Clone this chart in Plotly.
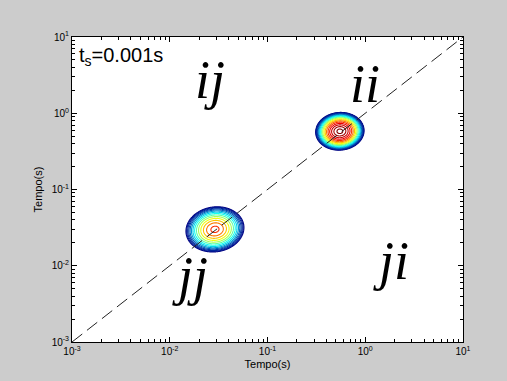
import numpy as np
import plotly.graph_objects as go

# ---- data ----
blob_names = ["ii", "jj"]
blob_cx = [0.55, 0.029]          # centre, x (s)
blob_cy = [0.58, 0.030]          # centre, y (s)
blob_radius_dec = [0.25, 0.30]   # outer radius in decades
blob_peak = [1.0, 0.78]          # peak density (normalised)
blob_tilt = [0.02, 0.04]         # elongation along the diagonal

label_text = ["ij", "ii", "jj", "ji"]
label_x = [0.026, 1.0, 0.016, 1.83]
label_y = [2.7, 2.4, 0.0074, 0.0115]

diag_x = [1e-3, 10]
diag_y = [1e-3, 10]

tick_vals = [1e-3, 1e-2, 1e-1, 1, 10]
tick_text = ["10<sup>-3</sup>", "10<sup>-2</sup>", "10<sup>-1</sup>",
             "10<sup>0</sup>", "10<sup>1</sup>"]
minor_vals = [m * 10.0 ** e for e in range(-3, 1) for m in range(2, 10)]

ts_text = "t<sub>s</sub>=0.001s"
axis_title = "Tempo(s)"

# ---- figure ----
fig = go.Figure()

for cx, cy, R, A, tilt in zip(blob_cx, blob_cy, blob_radius_dec, blob_peak, blob_tilt):
    lx = np.linspace(np.log10(cx) - 0.4, np.log10(cx) + 0.4, 181)
    ly = np.linspace(np.log10(cy) - 0.4, np.log10(cy) + 0.4, 181)
    LX, LY = np.meshgrid(lx, ly)
    dx = LX - np.log10(cx)
    dy = LY - np.log10(cy)
    u = (dx + dy) / np.sqrt(2) / (1 + tilt)
    v = (dx - dy) / np.sqrt(2) / (1 - tilt)
    r = np.sqrt(u ** 2 + v ** 2) / R
    z = A * np.clip(1 - r ** 1.6, 0, None) ** 0.75
    fig.add_trace(go.Contour(
        x=10 ** lx, y=10 ** ly, z=np.round(z, 4),
        colorscale="Jet", zmin=0, zmax=1, zauto=False,
        contours=dict(start=0.04, end=1.0, size=0.055, coloring="lines"),
        line=dict(width=1.1), showscale=False, hoverinfo="skip",
    ))

fig.add_trace(go.Scatter(
    x=diag_x, y=diag_y, mode="lines",
    line=dict(color="#222222", width=1, dash="13px,6px"),
    hoverinfo="skip", showlegend=False,
))

for t, x, y in zip(label_text, label_x, label_y):
    fig.add_annotation(
        x=np.log10(x), y=np.log10(y), xref="x", yref="y",
        text="<i>" + t + "</i>", showarrow=False,
        font=dict(family="Liberation Serif", size=54, color="black"),
        xanchor="center", yanchor="middle",
    )

fig.add_annotation(
    x=0.013, y=0.985, xref="paper", yref="paper", text=ts_text,
    showarrow=False, xanchor="left", yanchor="top",
    font=dict(family="Liberation Sans, Arial, sans-serif", size=20, color="black"),
)

axis_common = dict(
    type="log", range=[-3, 1], tickmode="array", tickvals=tick_vals,
    ticktext=tick_text, ticks="inside", ticklen=5, tickcolor="black",
    tickwidth=1, showline=True, linecolor="black", linewidth=1,
    mirror="ticks", showgrid=False, zeroline=False,
    tickfont=dict(family="Liberation Sans, Arial, sans-serif", size=10, color="black"),
    minor=dict(tickmode="array", tickvals=minor_vals, ticks="inside",
               ticklen=3, tickcolor="black", showgrid=False),
    title=dict(text=axis_title,
               font=dict(family="Liberation Sans, Arial, sans-serif", size=11, color="black")),
)

fig.update_xaxes(**axis_common)
fig.update_yaxes(**axis_common)
fig.update_xaxes(title_standoff=4)
fig.update_yaxes(title_standoff=6)

fig.update_layout(
    width=507, height=381,
    margin=dict(l=72, r=44, t=37, b=37),
    paper_bgcolor="#cccccc", plot_bgcolor="white",
    showlegend=False, hovermode=False,
)

fig.write_html("out.html")
